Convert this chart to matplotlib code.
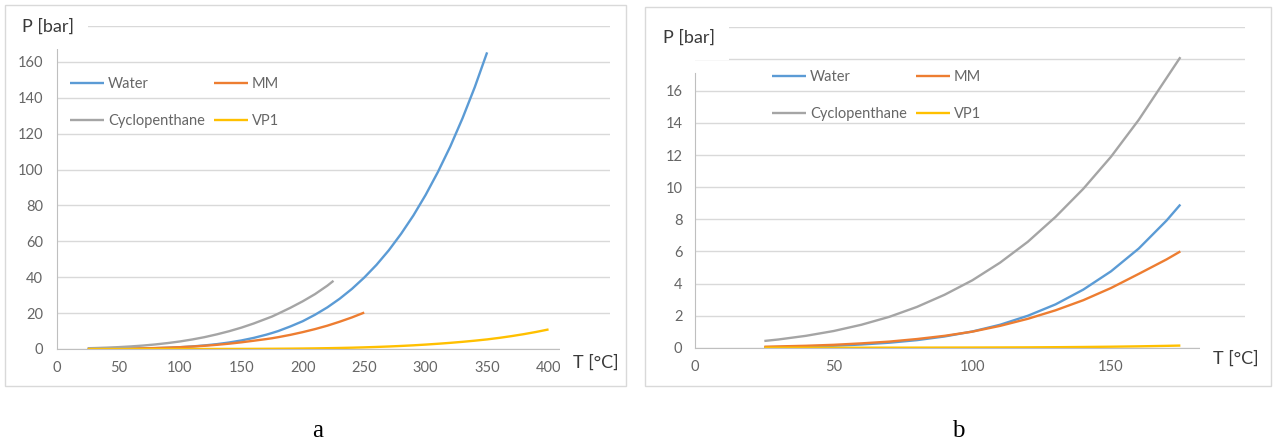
import matplotlib
matplotlib.use("Agg")
import matplotlib.pyplot as plt
from matplotlib.patches import Rectangle

plt.rcParams['font.family'] = ['Lato', 'DejaVu Sans']

# ---------------- data ----------------
water_T = [25, 30, 40, 50, 60, 70, 80, 90, 100, 110, 120, 130, 140, 150, 160, 170, 175,
           180, 190, 200, 210, 220, 230, 240, 250, 260, 270, 280, 290, 300, 310, 320,
           330, 340, 350]
water_P = [0.03, 0.04, 0.07, 0.12, 0.20, 0.31, 0.47, 0.70, 1.01, 1.43, 1.99, 2.70, 3.62,
           4.76, 6.18, 7.92, 8.92, 10.0, 12.6, 15.5, 19.1, 23.2, 28.0, 33.5, 39.8, 46.9,
           55.0, 64.2, 74.4, 85.9, 98.7, 112.8, 128.6, 146.0, 165.3]

mm_T = [25, 30, 40, 50, 60, 70, 80, 90, 100, 110, 120, 130, 140, 150, 160, 170, 175,
        180, 190, 200, 210, 220, 230, 240, 250]
mm_P = [0.06, 0.08, 0.12, 0.18, 0.27, 0.38, 0.54, 0.74, 1.0, 1.36, 1.80, 2.33, 2.96,
        3.72, 4.60, 5.50, 6.0, 6.59, 7.90, 9.41, 11.1, 13.0, 15.2, 17.6, 20.3]

cyc_T = [25, 30, 40, 50, 60, 70, 80, 90, 100, 110, 120, 130, 140, 150, 160, 170, 175,
         180, 190, 200, 210, 220, 225]
cyc_P = [0.42, 0.51, 0.74, 1.04, 1.43, 1.92, 2.54, 3.30, 4.2, 5.3, 6.6, 8.15, 9.9, 11.9,
         14.2, 16.8, 18.1, 19.7, 23.0, 26.6, 30.6, 35.3, 38.0]

vp1_T = [25, 50, 75, 100, 110, 120, 130, 140, 150, 160, 170, 175, 180, 190, 200, 210,
         220, 230, 240, 250, 260, 270, 280, 290, 300, 310, 320, 330, 340, 350, 360, 370,
         380, 390, 400]
vp1_P = [0.0, 0.0, 0.003, 0.011, 0.016, 0.022, 0.032, 0.045, 0.062, 0.085, 0.115, 0.133,
         0.154, 0.205, 0.27, 0.352, 0.454, 0.58, 0.73, 0.92, 1.14, 1.40, 1.70, 2.05, 2.46,
         2.92, 3.43, 4.00, 4.64, 5.35, 6.21, 7.19, 8.29, 9.52, 10.9]

series_names = ['Water', 'MM', 'Cyclopenthane', 'VP1']
series_colors = ['#5B9BD5', '#ED7D31', '#A5A5A5', '#FFC000']

# chart b shows the range up to 175 °C
a_Tmax = 400
b_Tmax = 175

xticks_a = [0, 50, 100, 150, 200, 250, 300, 350, 400]
yticks_a = [0, 20, 40, 60, 80, 100, 120, 140, 160, 180]
ylabels_a = ['0', '20', '40', '60', '80', '100', '120', '140', '160', '']
xticks_b = [0, 50, 100, 150]
yticks_b = [0, 2, 4, 6, 8, 10, 12, 14, 16, 18, 20]
ylabels_b = ['0', '2', '4', '6', '8', '10', '12', '14', '16', '', '']

panel_labels = ['a', 'b']
y_title = 'P [bar]'
x_title = 'T [°C]'

# ---------------- figure ----------------
W, H = 1274, 447
fig = plt.figure(figsize=(W / 100, H / 100), dpi=100)
fig.patch.set_facecolor('white')


def px_axes(x0, x1, ytop, ybot):
    return fig.add_axes([x0 / W, 1 - ybot / H, (x1 - x0) / W, (ybot - ytop) / H])


tick_color = '#666666'
title_color = '#3A3A3A'
grid_color = '#D9D9D9'
axis_color = '#BFBFBF'


def style(ax, xlim, ylim, xticks, yticks, ylabels, ybound, xbound, pad_y):
    ax.set_xlim(*xlim)
    ax.set_ylim(*ylim)
    ax.set_xticks(xticks)
    ax.set_xticklabels([str(v) for v in xticks])
    ax.set_yticks(yticks)
    ax.set_yticklabels(ylabels)
    ax.tick_params(length=0, labelsize=10.5, colors=tick_color)
    ax.tick_params(axis='y', pad=pad_y)
    ax.tick_params(axis='x', pad=9)
    for s in ['top', 'right']:
        ax.spines[s].set_visible(False)
    ax.spines['left'].set_color(axis_color)
    ax.spines['bottom'].set_color(axis_color)
    ax.spines['left'].set_bounds(0, ybound)
    ax.spines['bottom'].set_bounds(0, xbound)
    ax.yaxis.grid(True, color=grid_color, lw=1)
    ax.set_axisbelow(True)


def draw_series(ax, tmax):
    data = [(water_T, water_P), (mm_T, mm_P), (cyc_T, cyc_P), (vp1_T, vp1_P)]
    handles = []
    for (tt, pp), name, col in zip(data, series_names, series_colors):
        xs = [t for t in tt if t <= tmax]
        ys = [p for t, p in zip(tt, pp) if t <= tmax]
        h, = ax.plot(xs, ys, color=col, lw=1.7, label=name,
                     solid_capstyle='butt', solid_joinstyle='round')
        handles.append(h)
    return handles


def legend(ax, handles, x_px, ytop_px, colspace, ls):
    order = [handles[0], handles[2], handles[1], handles[3]]
    ax.legend(order, [h.get_label() for h in order], ncol=2, frameon=False,
              loc='upper left', bbox_to_anchor=(x_px / W, 1 - ytop_px / H),
              bbox_transform=fig.transFigure, borderpad=0, borderaxespad=0,
              handlelength=2.35, handletextpad=0.25, labelspacing=ls,
              columnspacing=colspace, fontsize=10.5, labelcolor=tick_color)


box = dict(boxstyle='square,pad=0.75', fc='white', ec='none')

# ---- chart a ----
ax_a = px_axes(57, 610, 26, 349)
style(ax_a, (0, 450), (0, 180), xticks_a, yticks_a, ylabels_a, 180, 450, 10)
h_a = draw_series(ax_a, a_Tmax)
legend(ax_a, h_a, 70, 77, 0.6, 1.6)
fig.text(48 / W, 1 - 27 / H, y_title, ha='center', va='center', fontsize=13,
         color=title_color, bbox=box)
fig.text(596 / W, 1 - 363 / H, x_title, ha='center', va='center', fontsize=13,
         color=title_color, bbox=box)

# ---- chart b ----
ax_b = px_axes(695, 1245, 26.7, 347.7)
style(ax_b, (0, 198.3), (0, 20), xticks_b, yticks_b, ylabels_b, 17.1, 198.3, 9)
h_b = draw_series(ax_b, b_Tmax)
legend(ax_b, h_b, 772, 70, 0.6, 1.55)
fig.text(689 / W, 1 - 38 / H, y_title, ha='center', va='center', fontsize=13,
         color=title_color, bbox=box)
fig.text(1236 / W, 1 - 359 / H, x_title, ha='center', va='center', fontsize=13,
         color=title_color, bbox=box)

# panel borders (drawn on top of everything)
fig.add_artist(Rectangle((5 / W, 1 - 386 / H), 621 / W, 381 / H, transform=fig.transFigure,
                         fill=False, ec='#D9D9D9', lw=1, zorder=10))
fig.add_artist(Rectangle((645 / W, 1 - 386 / H), 626 / W, 379 / H, transform=fig.transFigure,
                         fill=False, ec='#D9D9D9', lw=1, zorder=10))

# panel labels
fig.text(318 / W, 1 - 431 / H, panel_labels[0], ha='center', va='center', fontsize=18,
         family=['Liberation Serif', 'DejaVu Serif'], color='black')
fig.text(958 / W, 1 - 431 / H, panel_labels[1], ha='center', va='center', fontsize=18,
         family=['Liberation Serif', 'DejaVu Serif'], color='black')

fig.savefig('out.png', dpi=100, facecolor='white')
